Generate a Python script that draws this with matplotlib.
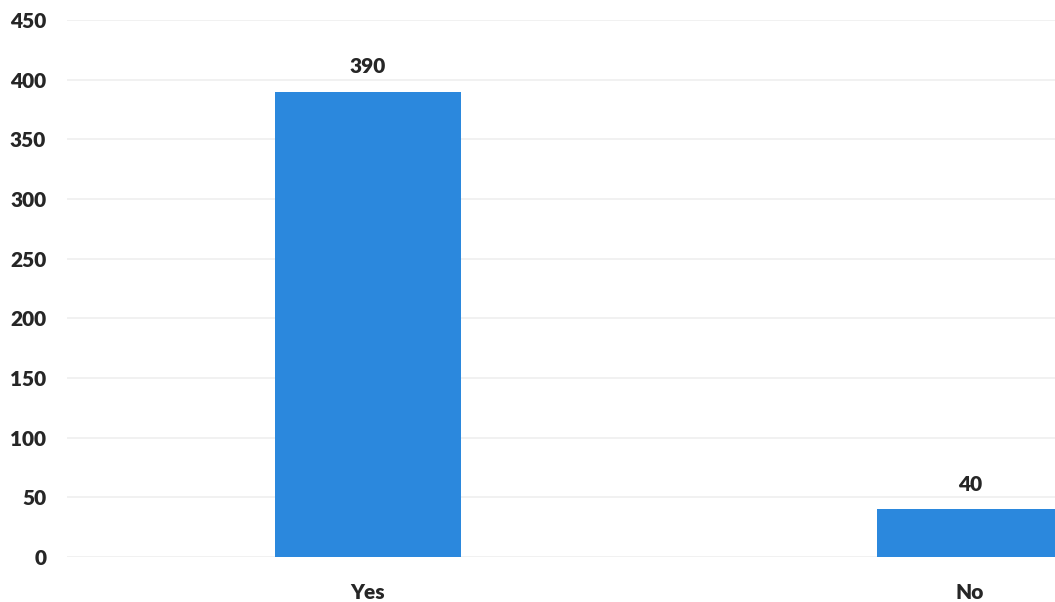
import matplotlib
matplotlib.use('Agg')
import matplotlib.pyplot as plt

# Data
categories = ['Yes', 'No']
counts = [390, 40]
yticks = [0, 50, 100, 150, 200, 250, 300, 350, 400, 450]

plt.rcParams['font.family'] = ['Lato', 'DejaVu Sans']

fig = plt.figure(figsize=(10.55, 6.02), dpi=100)
ax = fig.add_axes([0.0635, 0.0748, 0.9365, 0.892])

x = list(range(len(categories)))
bars = ax.bar(x, counts, width=0.31, color='#2B88DD', zorder=2)

for xi, v in zip(x, counts):
    ax.text(xi, v + 13, str(v), ha='center', va='bottom',
            fontsize=15, fontweight='heavy', color='#262626')

ax.set_xlim(-0.5, 1.141)
ax.set_ylim(0, 450)
ax.set_yticks(yticks)
ax.set_xticks(x)
ax.set_xticklabels(categories)
ax.yaxis.grid(True, color='#efefef', linewidth=1.2, zorder=0)
ax.set_axisbelow(True)

for s in ax.spines.values():
    s.set_visible(False)
ax.tick_params(axis='both', length=0, labelsize=15, colors='#262626')
ax.tick_params(axis='y', pad=15)
ax.tick_params(axis='x', pad=19)
for lbl in ax.get_xticklabels() + ax.get_yticklabels():
    lbl.set_fontweight('heavy')

fig.savefig('out.png', dpi=100)
